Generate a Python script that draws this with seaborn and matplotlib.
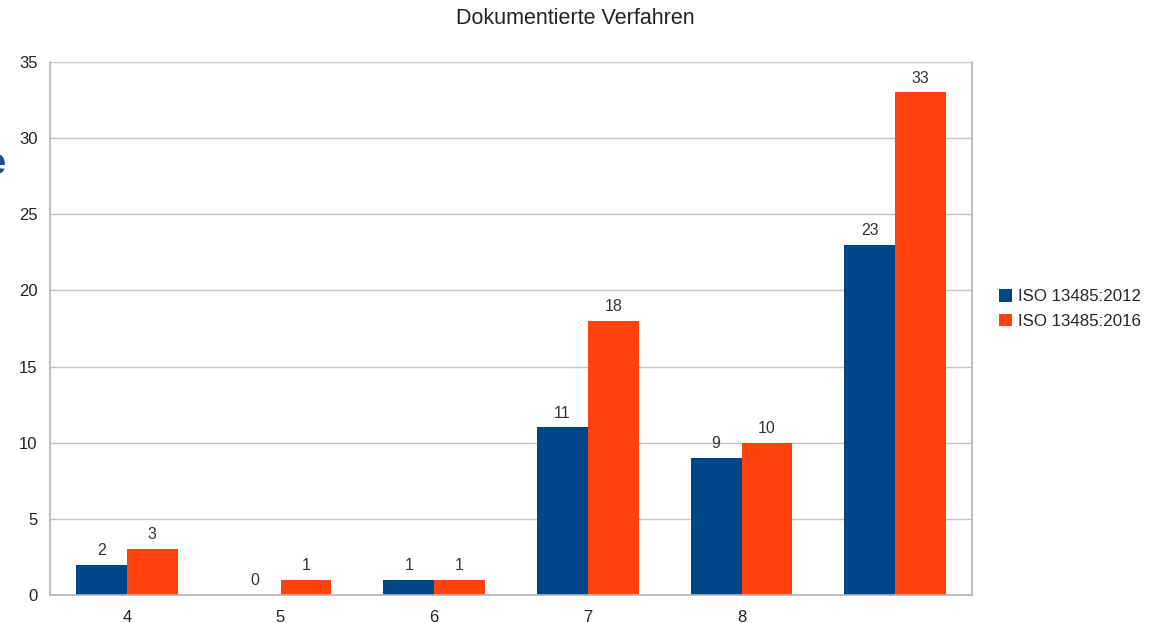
import matplotlib
matplotlib.use("Agg")
import matplotlib.pyplot as plt
import seaborn as sns
import pandas as pd
import numpy as np
from matplotlib.ticker import FixedLocator

categories = ["4", "5", "6", "7", "8", ""]
series_names = ["ISO 13485:2012", "ISO 13485:2016"]
values_2012 = [2, 0, 1, 11, 9, 23]
values_2016 = [3, 1, 1, 18, 10, 33]
colors = ["#004586", "#ff420e"]

cat_ids = [f"c{i}" for i in range(len(categories))]
df = pd.DataFrame({
    "cat": cat_ids * 2,
    "series": [series_names[0]] * len(cat_ids) + [series_names[1]] * len(cat_ids),
    "value": values_2012 + values_2016,
})

sns.set_theme(style="white")
plt.rcParams["font.family"] = ["Liberation Sans", "DejaVu Sans"]

fig = plt.figure(figsize=(11.6, 6.23), dpi=100)
ax = fig.add_axes([50 / 1160, 1 - 595 / 623, 922 / 1160, (595 - 62) / 623])

sns.barplot(data=df, x="cat", y="value", hue="series", order=cat_ids,
            hue_order=series_names, palette=colors, width=0.66,
            saturation=1, ax=ax, legend=True, linewidth=0)

for cont in ax.containers:
    ax.bar_label(cont, labels=[f"{int(v)}" for v in cont.datavalues],
                 padding=5, fontsize=11.5, color="#333333")

ax.set_xlim(-0.5, len(categories) - 0.5)
ax.set_ylim(0, 35)
ax.set_yticks(range(0, 36, 5))
ax.set_xticks(range(len(categories)))
ax.set_xticklabels(categories)
ax.xaxis.set_minor_locator(FixedLocator(np.arange(-0.5, len(categories), 1.0)))
ax.tick_params(axis="x", which="major", length=0, pad=11, labelsize=12, labelcolor="#222222")
ax.tick_params(axis="x", which="minor", length=6, width=1, color="#b3b3b3", direction="out")
ax.tick_params(axis="y", which="major", length=6, width=1, color="#b3b3b3", direction="out",
               labelsize=12, labelcolor="#222222", pad=3)
ax.set_xlabel("")
ax.set_ylabel("")
ax.yaxis.grid(True, color="#c4c4c4", linewidth=1)
ax.set_axisbelow(True)
ax.spines["top"].set_visible(False)
for side in ["left", "bottom", "right"]:
    ax.spines[side].set_color("#b3b3b3")
    ax.spines[side].set_linewidth(1.2)

fig.text(575 / 1160, 1 - 18 / 623, "Dokumentierte Verfahren", ha="center", va="center",
         fontsize=15.5, color="#222222")

handles, labels = ax.get_legend_handles_labels()
ax.legend(handles, labels, loc="center left", bbox_to_anchor=(999 / 1160, 1 - 309 / 623),
          bbox_transform=fig.transFigure, frameon=False, fontsize=12.2,
          handlelength=0.75, handleheight=0.75, handletextpad=0.35, labelspacing=0.55,
          borderaxespad=0, borderpad=0)

fig.text(-0.012, 1 - 165 / 623, "e", ha="left", va="center", fontsize=26,
         color="#1f4e8c", fontweight="bold")

fig.savefig("out.png", dpi=100, facecolor="white")
